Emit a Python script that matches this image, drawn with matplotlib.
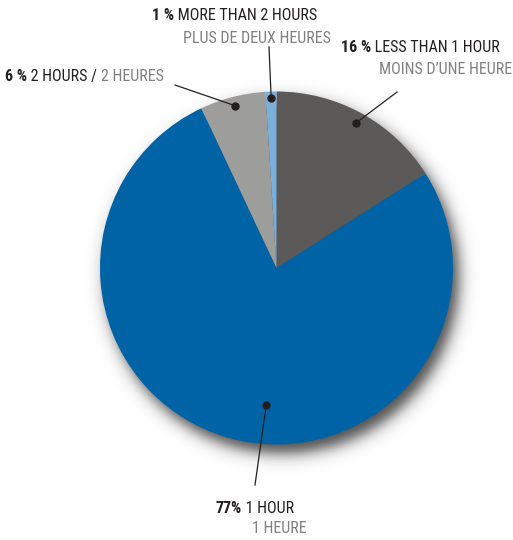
"""
Pie chart: share of time spent, with bilingual leader labels
"""

import numpy as np
import matplotlib
matplotlib.use('Agg')
from matplotlib import pyplot as plt

# slices, clockwise from 12 o'clock
shares = [16, 77, 6, 1]
pct_labels = ['16 %', '77%', '6 %', '1 %']
en_labels = ['LESS THAN 1 HOUR', '1 HOUR', '2 HOURS', 'MORE THAN 2 HOURS']
fr_labels = ['MOINS D\u2019UNE HEURE', '1 HEURE', '2 HEURES', 'PLUS DE DEUX HEURES']
colours = ['#5b5a59', '#0063a6', '#9d9d9c', '#7aafdb']

DARK = '#231f20'
GREY = '#808080'
FONT = ['Roboto Condensed', 'DejaVu Sans']
FS = 11.5

CX, CY, R = 276.5, 268, 176.5

fig = plt.figure(figsize=(5.13, 5.4), dpi=100)
ax = fig.add_axes([0, 0, 1, 1])

# soft drop shadow, offset down and right
xx, yy = np.meshgrid(np.arange(0, 513) + 0.5, np.arange(0, 540) + 0.5)
d = np.hypot(xx - (CX + 6), yy - (CY + 9))
alpha = 0.8 / (1 + np.exp((d - R) / 4.5))
shadow = np.zeros((540, 513, 4))
shadow[..., 0:3] = 0.12
shadow[..., 3] = alpha
ax.imshow(shadow, extent=(0, 513, 540, 0), zorder=0, interpolation='bilinear')

# y axis is flipped, so counterclock in data = clockwise on screen
wedges, _ = ax.pie(shares, colors=colours, startangle=-90, counterclock=True,
                   center=(CX, CY), radius=R, frame=True,
                   wedgeprops=dict(linewidth=0))
ax.set_xlim(0, 513)
ax.set_ylim(540, 0)
ax.set_aspect('equal')
ax.axis('off')

fig.canvas.draw()
renderer = fig.canvas.get_renderer()


def write_line(x, y, parts):
    # parts: list of (text, weight, colour), drawn one after another
    for text, weight, colour in parts:
        t = ax.text(x, y, text, fontsize=FS, fontweight=weight, color=colour,
                    family=FONT, va='baseline', ha='left')
        bb = t.get_window_extent(renderer)
        x0 = ax.transData.inverted().transform((bb.x0, bb.y0))[0]
        x1 = ax.transData.inverted().transform((bb.x1, bb.y0))[0]
        x = x + (x1 - x0)


# where the dot sits: fraction along the slice, fraction of the radius
dot_pos = [(0.5, 0.94), (0.457, 0.78), (0.5, 0.95), (0.5, 0.965)]
# leader line start (near the label)
line_end = [(397, 92), (255, 485), (175, 85), (269, 47)]

starts = np.cumsum([0] + shares[:-1])
for i, share in enumerate(shares):
    frac = (starts[i] + dot_pos[i][0] * share) / 100.0
    ang = np.deg2rad(90 - 360 * frac)
    dx = CX + dot_pos[i][1] * R * np.cos(ang)
    dy = CY - dot_pos[i][1] * R * np.sin(ang)
    lx, ly = line_end[i]
    ax.plot([lx, dx], [ly, dy], color=DARK, lw=0.9, zorder=5)
    ax.plot(dx, dy, 'o', color=DARK, ms=5, zorder=6)

sp = ' '
# 16 %
write_line(341, 52, [(pct_labels[0], 'bold', DARK), (sp + en_labels[0], 'normal', DARK)])
write_line(379, 74, [(fr_labels[0], 'normal', GREY)])
# 77%
write_line(216, 513, [(pct_labels[1], 'bold', DARK), (sp + en_labels[1], 'normal', DARK)])
write_line(252, 533, [(fr_labels[1], 'normal', GREY)])
# 6 %
write_line(5, 81, [(pct_labels[2], 'bold', DARK), (sp + en_labels[2] + ' / ', 'normal', DARK),
                   (fr_labels[2], 'normal', GREY)])
# 1 %
write_line(152, 20, [(pct_labels[3], 'bold', DARK), (sp + en_labels[3], 'normal', DARK)])
write_line(183, 43, [(fr_labels[3], 'normal', GREY)])

fig.savefig('out.png', dpi=100)
